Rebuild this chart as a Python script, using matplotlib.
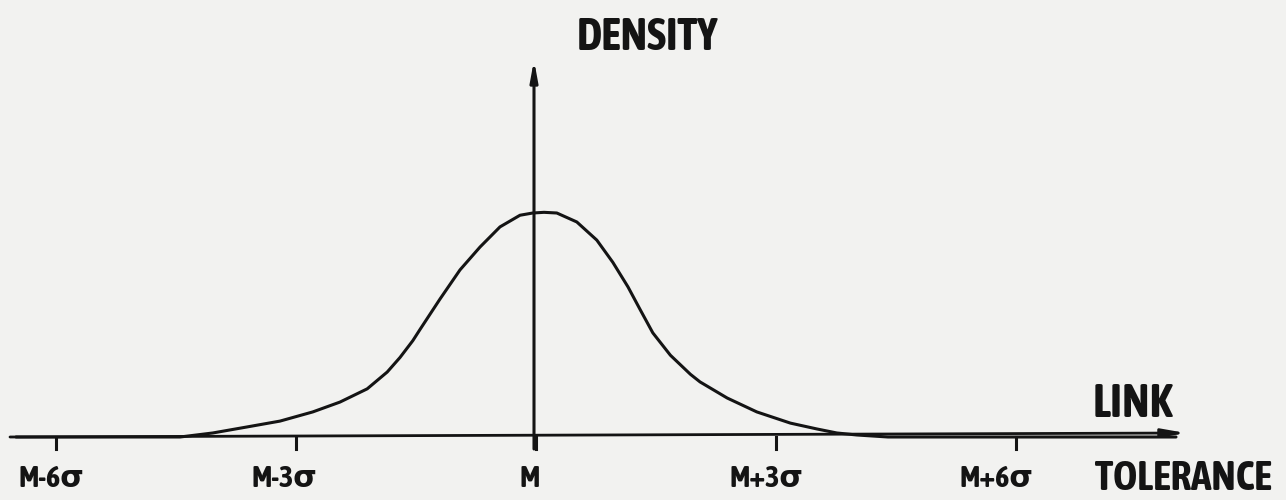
import matplotlib
matplotlib.use("Agg")
import matplotlib.pyplot as plt
from matplotlib import font_manager

# ---- data (x in sigma units from the mean M, y relative density) ----
curve_x = [-6.5, -4.45, -4.04, -3.61, -3.2, -2.79, -2.45, -2.11, -1.86, -1.7, -1.54,
           -1.45, -1.2, -0.95, -0.7, -0.45, -0.2, -0.04, 0.1, 0.26, 0.51, 0.76,
           0.96, 1.15, 1.3, 1.46, 1.68, 1.93, 2.05, 2.39, 2.76, 3.18, 3.51, 3.76,
           4.01, 4.4, 8.0]
curve_y = [0.0, 0.0, 0.018, 0.045, 0.071, 0.112, 0.156, 0.215, 0.29, 0.355, 0.43,
           0.48, 0.616, 0.746, 0.848, 0.938, 0.99, 1.0, 1.003, 1.0, 0.96, 0.879,
           0.78, 0.67, 0.57, 0.465, 0.365, 0.28, 0.246, 0.174, 0.112, 0.062, 0.036,
           0.018, 0.009, 0.0, 0.0]
tick_pos = [-6, -3, 0, 3, 6]
tick_labels = ["M-6σ", "M-3σ", "M", "M+3σ", "M+6σ"]
y_label = "DENSITY"
x_label = ["LINK", "TOLERANCE"]

# ---- layout ----
PX0, PXS = 536.0, 80.0      # pixel x of M, pixels per sigma
PY0, PYS = 437.0, 224.0     # pixel y of baseline, pixels per density unit
label_shift = [-0.06, -0.15, -0.075, -0.12, -0.24]   # label centre offsets (sigma)


def dx(px):
    return (px - PX0) / PXS


def dy(py):
    return (PY0 - py) / PYS


# pick a narrow bold font if one is installed
pref = None
for f in font_manager.fontManager.ttflist:
    nm = f.name
    if ("Narrow" in nm or "Condensed" in nm) and f.weight in ("bold", 700):
        pref = (nm, "normal")
        break
if pref is None:
    for f in font_manager.fontManager.ttflist:
        if f.stretch in ("condensed", "semi-condensed", "extra-condensed", 300, 400, 500) \
                and f.weight in ("bold", 700):
            pref = (f.name, "condensed")
            break
if pref is None:
    pref = ("DejaVu Sans", "normal")
fam = [pref[0], "DejaVu Sans"]
stretch = pref[1]

ink = "#141414"
bg = "#f2f2f0"

fig = plt.figure(figsize=(12.86, 5.0), dpi=100, facecolor=bg)
ax = fig.add_axes([0, 0, 1, 1])
ax.set_facecolor(bg)
ax.set_xlim(dx(0), dx(1286))
ax.set_ylim(dy(500), dy(0))
ax.axis("off")

# density curve
ax.plot(curve_x, curve_y, color=ink, lw=2.2, solid_capstyle="round",
        solid_joinstyle="round", zorder=3)

# horizontal axis with arrow
ax.annotate("", xy=(dx(1186), dy(433)), xytext=(dx(10), dy(437)),
            arrowprops=dict(arrowstyle="-|>,head_length=1.4,head_width=0.25",
                            color=ink, lw=2.0, shrinkA=0, shrinkB=0), zorder=2)
# vertical axis with arrow
ax.annotate("", xy=(dx(534), dy(60)), xytext=(dx(534), dy(449)),
            arrowprops=dict(arrowstyle="-|>,head_length=1.2,head_width=0.22",
                            color=ink, lw=2.2, shrinkA=0, shrinkB=0), zorder=2)

renderer = fig.canvas.get_renderer()


def fit_text(x, y, s, cap_px, width_px, ha, tol=1.04):
    t = ax.text(x, y, s, ha=ha, va="baseline", fontsize=cap_px * 1.0,
                family=fam, fontstretch=stretch, fontweight="bold", color=ink)
    w = t.get_window_extent(renderer).width
    if w > width_px * tol:
        t.set_fontsize(cap_px * width_px * tol / w)
    return t


# ticks
for p in tick_pos:
    ax.plot([p, p], [0, dy(449)], color=ink, lw=2.2, zorder=2)

# tick labels: one common size, fitted on the widest label
probe = fit_text(0, dy(487), "M+6σ", 24, 66, "center", tol=1.12)
size = probe.get_fontsize()
probe.remove()
for p, lab, sh in zip(tick_pos, tick_labels, label_shift):
    ax.text(p + sh, dy(487), lab, ha="center", va="baseline", fontsize=size,
            family=fam, fontstretch=stretch, fontweight="bold", color=ink)

fit_text(dx(577), dy(50), y_label, 33, 136, "left")
fit_text(dx(1093), dy(417), x_label[0], 34, 77, "left")
fit_text(dx(1095), dy(490), x_label[1], 30, 170, "left")

fig.savefig("out.png", dpi=100, facecolor=bg)
